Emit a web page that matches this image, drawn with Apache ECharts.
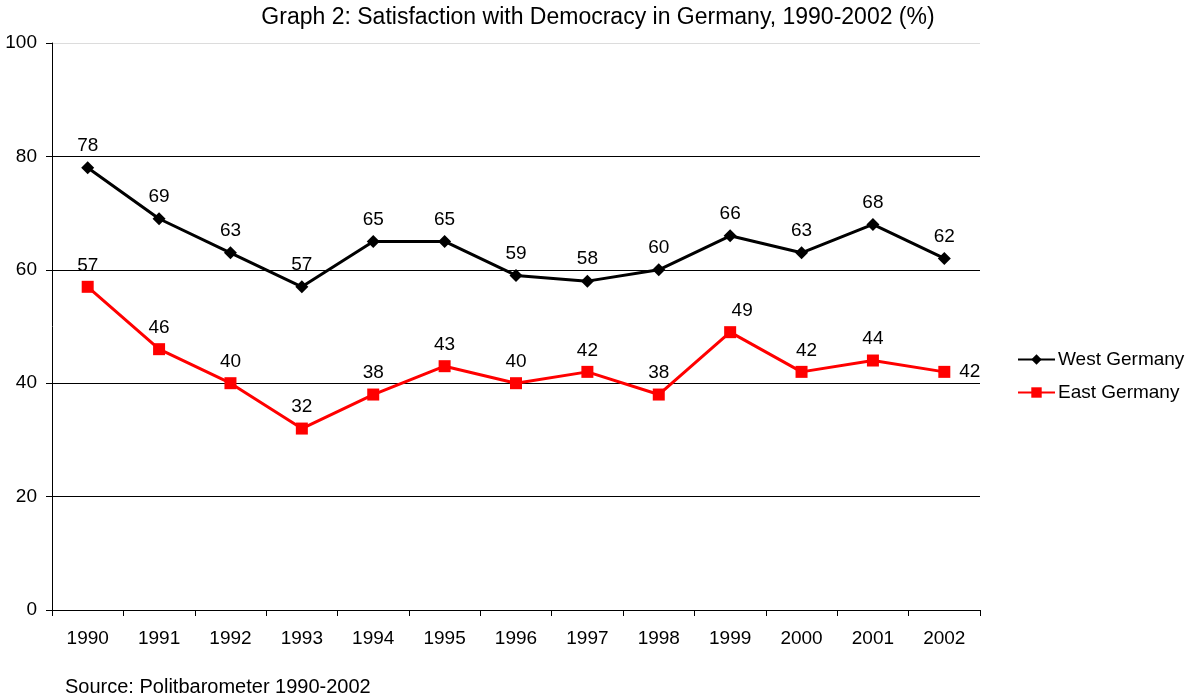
<!DOCTYPE html>
<html>
<head>
<meta charset="utf-8">
<script src="https://cdn.jsdelivr.net/npm/echarts@6/dist/echarts.min.js"></script>
<style>
  html, body { margin: 0; padding: 0; background: #fff; }
  #chart { width: 1188px; height: 696px; }
</style>
</head>
<body>
<div id="chart"></div>
<script>
// Satisfaction with democracy, percent of respondents
const years = ['1990', '1991', '1992', '1993', '1994', '1995', '1996', '1997', '1998', '1999', '2000', '2001', '2002'];
const westGermany = [78, 69, 63, 57, 65, 65, 59, 58, 60, 66, 63, 68, 62];
const eastGermany = [57, 46, 40, 32, 38, 43, 40, 42, 38, 49, 42, 44, 42];
const yTicks = [0, 20, 40, 60, 80, 100];

const FONT = 'Liberation Sans, Arial, sans-serif';
const chart = echarts.init(document.getElementById('chart'), null, { renderer: 'canvas' });

const labelStyle = { show: true, position: 'top', distance: 6, color: '#000', fontFamily: FONT, fontSize: 19 };

// a few labels sit a little off-centre of their point
const eastData = eastGermany.map((v, i) => {
  if (i === eastGermany.length - 1) return { value: v, label: { position: 'right', distance: 9 } };
  if (i === 9) return { value: v, label: { offset: [12, 0] } };
  if (i === 10) return { value: v, label: { offset: [5, 0] } };
  return v;
});

chart.setOption({
  animation: false,
  backgroundColor: '#fff',
  title: [
    {
      text: 'Graph 2: Satisfaction with Democracy in Germany, 1990-2002 (%)',
      left: 598, top: 6, textAlign: 'center', padding: 0,
      textStyle: { fontFamily: FONT, fontSize: 23, fontWeight: 'normal', color: '#000' }
    },
    {
      text: 'Source: Politbarometer 1990-2002',
      left: 65, top: 677, padding: 0,
      textStyle: { fontFamily: FONT, fontSize: 20, fontWeight: 'normal', color: '#000' }
    }
  ],
  legend: {
    orient: 'vertical',
    left: 1017, top: 350, padding: 0,
    itemWidth: 37, itemHeight: 13, itemGap: 14,
    textStyle: { fontFamily: FONT, fontSize: 19, color: '#000', padding: [0, 0, 0, -2] },
    data: ['West Germany', 'East Germany']
  },
  grid: { left: 52, right: 208, top: 43, bottom: 86 },
  xAxis: {
    type: 'category',
    data: years,
    boundaryGap: true,
    axisLine: { lineStyle: { color: '#000', width: 1 } },
    axisTick: { show: true, length: 6, lineStyle: { color: '#000' } },
    axisLabel: { color: '#000', fontFamily: FONT, fontSize: 19, margin: 19 },
    splitLine: { show: false }
  },
  yAxis: {
    type: 'value',
    min: yTicks[0], max: yTicks[yTicks.length - 1], interval: 20,
    axisLine: { show: true, lineStyle: { color: '#000', width: 1 } },
    axisTick: { show: true, length: 6, lineStyle: { color: '#000' } },
    axisLabel: { color: '#000', fontFamily: FONT, fontSize: 19, margin: 15 },
    splitLine: { show: true, lineStyle: { color: ['#000', '#000', '#000', '#000', '#000', '#dcdcdc'], width: 1 } }
  },
  series: [
    {
      name: 'West Germany',
      type: 'line',
      data: westGermany,
      symbol: 'diamond', symbolSize: 13,
      lineStyle: { color: '#000', width: 3 },
      itemStyle: { color: '#000' },
      label: labelStyle
    },
    {
      name: 'East Germany',
      type: 'line',
      data: eastData,
      symbol: 'rect', symbolSize: 12,
      lineStyle: { color: '#ff0000', width: 3 },
      itemStyle: { color: '#ff0000' },
      label: labelStyle
    }
  ]
});
</script>
</body>
</html>
